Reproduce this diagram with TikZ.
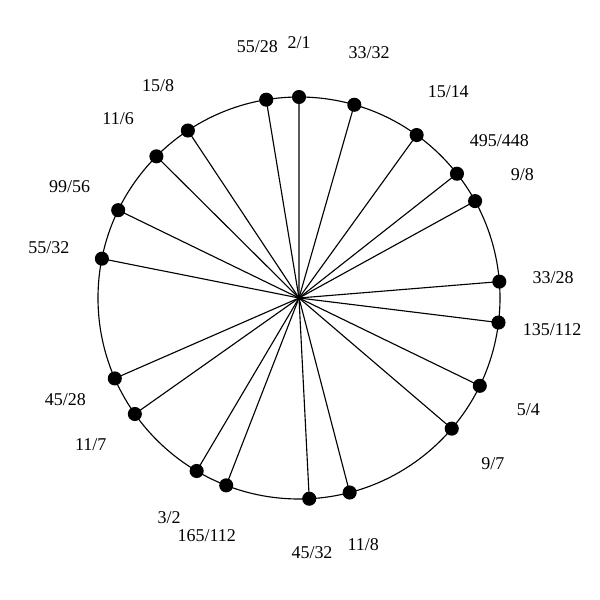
\documentclass[tikz,border=0pt]{standalone}
\usepackage{fontspec}
\setmainfont{Liberation Serif}
\begin{document}
\begin{tikzpicture}[x=0.667pt,y=0.667pt,
  dot/.style={circle,fill=black,inner sep=0pt,minimum size=9.4pt},
  lab/.style={font=\fontsize{12}{14}\selectfont,inner sep=0pt},
  spoke/.style={line width=0.75pt},
  rim/.style={line width=0.75pt}]
\useasboundingbox (-299,-302) rectangle (301,298);
\coordinate (c) at (0,0);
\draw[rim] (c) circle (201);
\foreach \n/\d [count=\i] in {2/1,33/32,15/14,495/448,9/8,33/28,135/112,5/4,9/7,11/8,45/32,165/112,3/2,11/7,45/28,55/32,99/56,11/6,15/8,55/28}{
  \pgfmathsetmacro{\ang}{90-360*ln(\n/\d)/ln(2)}
  \node[dot] (p\i) at (\ang:201) {};
  \draw[spoke] (c) -- (p\i.center);
  \node[lab] (l\i) at (\ang:255) {\n/\d};
}
\end{tikzpicture}
\end{document}
